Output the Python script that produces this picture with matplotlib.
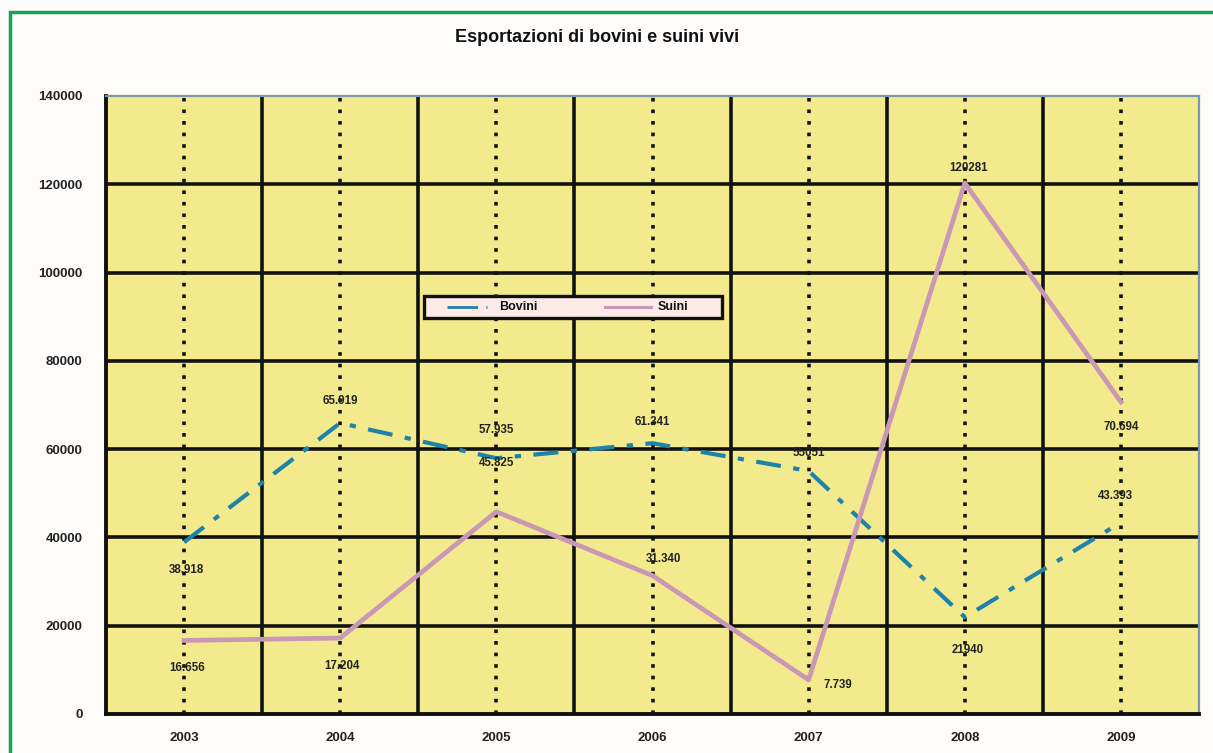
import matplotlib
matplotlib.use("Agg")
import matplotlib.pyplot as plt
from matplotlib.patches import Rectangle
from matplotlib.lines import Line2D

# Export data: live cattle (bovini) and pigs (suini)
years = ["2003", "2004", "2005", "2006", "2007", "2008", "2009"]
bovini = [38918, 65919, 57935, 61341, 55051, 21940, 43393]
suini = [16656, 17204, 45825, 31340, 7739, 120281, 70694]
bovini_labels = ["38.918", "65.919", "57.935", "61.341", "55051", "21940", "43.393"]
suini_labels = ["16.656", "17.204", "45.825", "31.340", "7.739", "120281", "70.694"]
y_ticks = [0, 20000, 40000, 60000, 80000, 100000, 120000, 140000]

# label offsets in points (dx, dy) relative to each data point
bovini_offsets = [(2, -20), (0, 16), (0, 20), (0, 15), (0, 13), (2, -24), (-4, 19)]
suini_offsets = [(2, -20), (1, -20), (0, 35), (8, 12), (21, -4), (3, 11), (0, -18)]

plt.rcParams['font.family'] = ['Liberation Sans', 'DejaVu Sans']

W, H = 1213, 753
fig = plt.figure(figsize=(W / 100, H / 100), dpi=100)
fig.patch.set_facecolor("#fefcfa")


def fx(px):
    return px / W


def fy(py):
    return 1 - py / H


# green frame around the chart area
fig.patches.append(Rectangle((fx(10), -0.05), 1.2, fy(12) + 0.05,
                             transform=fig.transFigure, fill=False,
                             edgecolor="#16a05a", linewidth=2.5))

ax = fig.add_axes([fx(106), fy(714), fx(1199 - 106), (714 - 96) / H])
ax.set_facecolor("#f3ea8e")

x = list(range(len(years)))
ax.set_xlim(-0.5, len(years) - 0.5)
ax.set_ylim(0, 140000)

# horizontal grid
for v in y_ticks[1:-1]:
    ax.axhline(v, color="#111111", linewidth=2.6, zorder=1)
# vertical solid lines between categories
for k in range(1, len(years)):
    ax.axvline(k - 0.5, color="#111111", linewidth=2.6, zorder=1)
# dotted lines at category centres
for k in x:
    ax.axvline(k, color="#111111", linewidth=2.6, linestyle=(0, (1, 2.2)), zorder=1)

bov_color = "#1f82a8"
sui_color = "#c898b4"
ax.plot(x, bovini, color=bov_color, linewidth=3.0,
        linestyle=(0, (6, 3, 1.5, 3)), zorder=3)
ax.plot(x, suini, color=sui_color, linewidth=3.4, zorder=3)

for xi, v, t, off in zip(x, bovini, bovini_labels, bovini_offsets):
    ax.annotate(t, (xi, v), xytext=off, textcoords="offset points",
                ha="center", va="center", fontsize=8.3, fontweight="bold",
                color="#222222", zorder=4)
for xi, v, t, off in zip(x, suini, suini_labels, suini_offsets):
    ax.annotate(t, (xi, v), xytext=off, textcoords="offset points",
                ha="center", va="center", fontsize=8.3, fontweight="bold",
                color="#222222", zorder=4)

ax.set_xticks(x)
ax.set_xticklabels(years, fontsize=9.5, fontweight="bold", color="#222222")
ax.set_yticks(y_ticks)
ax.set_yticklabels([str(v) for v in y_ticks], fontsize=9.5, fontweight="bold",
                   color="#222222")
ax.tick_params(axis="y", length=0, pad=17)
ax.tick_params(axis="x", length=0, pad=13)
for name in ("left", "bottom"):
    ax.spines[name].set_color("#111111")
    ax.spines[name].set_linewidth(2.8)
for name in ("top", "right"):
    ax.spines[name].set_color("#7c98a6")
    ax.spines[name].set_linewidth(1.6)

# legend box
fig.patches.append(Rectangle((fx(424), fy(318)), fx(722 - 424), (318 - 296) / H,
                             transform=fig.transFigure, facecolor="#fbeae6",
                             edgecolor="#111111", linewidth=2.4, zorder=5))
fig.lines.append(Line2D([fx(447), fx(487)], [fy(307), fy(307)],
                        transform=fig.transFigure, color=bov_color,
                        linewidth=2.0, linestyle=(0, (11, 3, 3, 3)), zorder=6))
fig.lines.append(Line2D([fx(605), fx(651)], [fy(307), fy(307)],
                        transform=fig.transFigure, color=sui_color,
                        linewidth=2.2, zorder=6))
fig.text(fx(499), fy(307), "Bovini", ha="left", va="center", fontsize=9,
         fontweight="bold", color="#111111", zorder=6)
fig.text(fx(658), fy(307), "Suini", ha="left", va="center", fontsize=9,
         fontweight="bold", color="#111111", zorder=6)

fig.text(fx(597), fy(37), "Esportazioni di bovini e suini vivi",
         ha="center", va="center", fontsize=13, fontweight="bold",
         color="#111111")

fig.savefig("out.png", dpi=100, facecolor=fig.get_facecolor())
